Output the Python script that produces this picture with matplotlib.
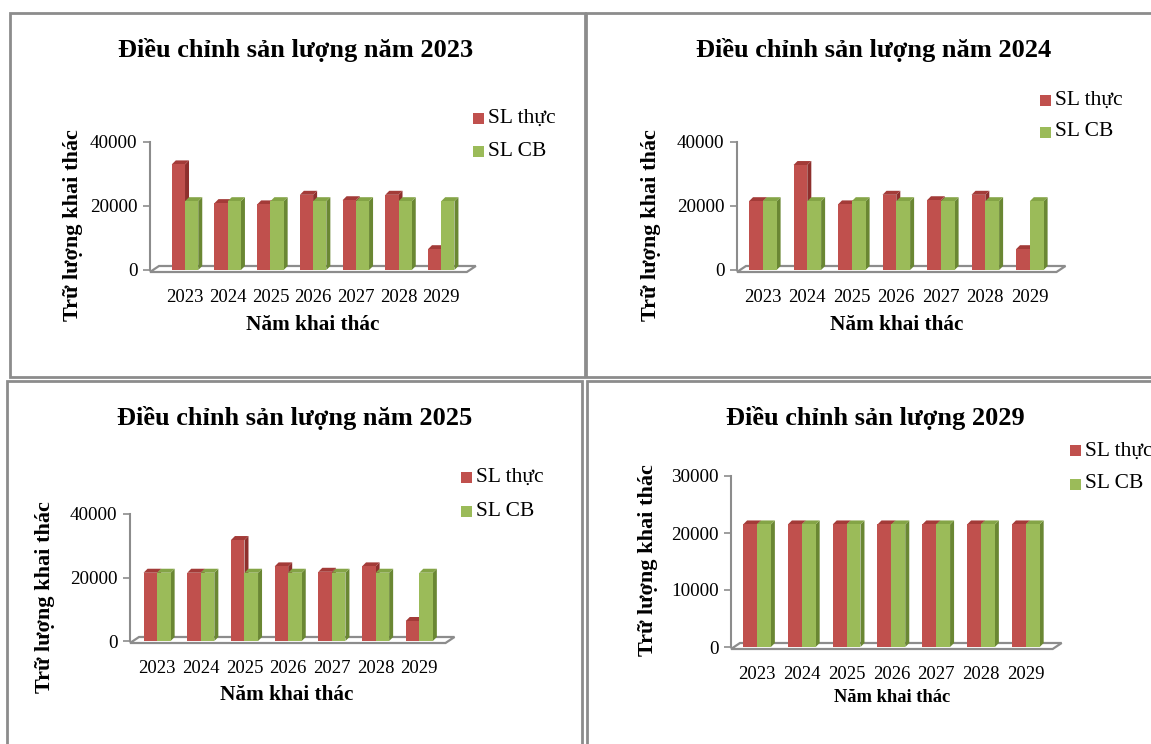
import matplotlib
matplotlib.use('Agg')
import matplotlib.pyplot as plt
from matplotlib.patches import Polygon, Rectangle
import numpy as np

# ---------------- data ----------------
years = ['2023', '2024', '2025', '2026', '2027', '2028', '2029']
sl_thuc_2023 = [33000, 20900, 20500, 23500, 21800, 23500, 6500]
sl_cb_2023 = [21500, 21500, 21500, 21500, 21500, 21500, 21500]
sl_thuc_2024 = [21500, 32800, 20500, 23500, 21800, 23500, 6500]
sl_cb_2024 = [21500, 21500, 21500, 21500, 21500, 21500, 21500]
sl_thuc_2025 = [21500, 21500, 31800, 23500, 21800, 23500, 6300]
sl_cb_2025 = [21500, 21500, 21500, 21500, 21500, 21500, 21500]
sl_thuc_2029 = [21500, 21500, 21500, 21500, 21500, 21500, 21500]
sl_cb_2029 = [21500, 21500, 21500, 21500, 21500, 21500, 21500]
titles = ['Điều chỉnh sản lượng năm 2023', 'Điều chỉnh sản lượng năm 2024',
          'Điều chỉnh sản lượng năm 2025', 'Điều chỉnh sản lượng 2029']
series_names = ['SL thực', 'SL CB']
yticks_40 = [0, 20000, 40000]
yticks_30 = [0, 10000, 20000, 30000]
xlabel_text = 'Năm khai thác'
ylabel_text = 'Trữ lượng khai thác'

# ---------------- style ----------------
W, H = 1151, 744
FONT = 'Liberation Serif'
RED = '#C0504D'; RED_SIDE = '#8E2F2D'; RED_TOP = '#A33B38'
GRN = '#9BBB59'; GRN_SIDE = '#6A8733'; GRN_TOP = '#84A446'
AXC = '#8C8C8C'

fig = plt.figure(figsize=(W / 100, H / 100), dpi=100)
fig.patch.set_facecolor('white')


def fx(px):
    return px / W


def fy(py):
    return 1 - py / H


def border(x0, y0, x1, y1):
    fig.patches.append(Rectangle((fx(x0), fy(y1)), fx(x1) - fx(x0), fy(y0) - fy(y1),
                                 transform=fig.transFigure, fill=False,
                                 edgecolor=AXC, linewidth=2.0))


border(10, 13, 585, 377)
border(586, 13, 1160, 377)
border(7, 381, 582, 760)
border(587, 381, 1160, 760)


def panel(cfg, red_vals, grn_vals, title):
    left, right, ytop, ybot = cfg['left'], cfg['right'], cfg['ytop'], cfg['ybot']
    ax = fig.add_axes([fx(left), fy(ybot), fx(right) - fx(left), fy(ytop) - fy(ybot)])
    ymax = cfg['ymax']
    xl = cfg['xl']
    spacing = cfg['spacing']
    xr = xl + (right - left) / spacing
    ax.set_xlim(xl, xr)
    ax.set_ylim(0, ymax)
    ax.set_facecolor('none')
    for s in ['top', 'right', 'bottom']:
        ax.spines[s].set_visible(False)
    ax.spines['left'].set_color(AXC)
    ax.spines['left'].set_linewidth(1.5)
    ax.set_yticks(cfg['yticks'])
    ax.set_yticklabels([str(v) for v in cfg['yticks']], fontsize=13.8, family=FONT)
    ax.tick_params(axis='y', length=5, color=AXC, width=1.2, pad=4)
    x = np.arange(len(years))
    ax.set_xticks(x)
    ax.set_xticklabels(years, fontsize=13.5, family=FONT)
    ax.tick_params(axis='x', length=0, pad=14)

    ppx = (right - left) / (xr - xl)      # px per x unit
    ppy = (ybot - ytop) / ymax            # px per y unit
    ddx, ddy = 4 / ppx, 4 / ppy           # bar depth
    fdx, fdy = 9 / ppx, 6 / ppy           # floor depth
    n = len(years)
    x_end = n - 0.5 + 0.1
    f0 = -2 / ppy
    floor = Polygon([(xl, f0), (x_end, f0), (x_end + fdx, f0 + fdy), (xl + fdx, f0 + fdy)],
                    closed=True, facecolor='white', edgecolor=AXC, linewidth=1.6,
                    zorder=1, clip_on=False)
    ax.add_patch(floor)

    bw = 0.31
    for i in range(n):
        for k, (vals, cf, cs, ct) in enumerate([(red_vals, RED, RED_SIDE, RED_TOP),
                                                 (grn_vals, GRN, GRN_SIDE, GRN_TOP)]):
            z = 2 + 2 * i + k
            xc = x[i] + (-bw / 2 if k == 0 else bw / 2)
            b = ax.bar([xc], [vals[i]], bw, color=cf, zorder=z + 0.5, linewidth=0)[0]
            x0 = b.get_x(); x1 = x0 + b.get_width(); h = b.get_height()
            side = Polygon([(x1, 0), (x1, h), (x1 + ddx, h + ddy), (x1 + ddx, ddy)],
                           closed=True, facecolor=cs, edgecolor='none', zorder=z, clip_on=False)
            top = Polygon([(x0, h), (x1, h), (x1 + ddx, h + ddy), (x0 + ddx, h + ddy)],
                          closed=True, facecolor=ct, edgecolor='none', zorder=z, clip_on=False)
            ax.add_patch(side)
            ax.add_patch(top)

    fig.text(fx(cfg['tx']), fy(cfg['ty']), title, ha='center', va='center',
             fontsize=19, fontweight='bold', family=FONT)
    fig.text(fx(cfg['xlx']), fy(cfg['xly']), xlabel_text, ha='center', va='center',
             fontsize=cfg['xlfs'], fontweight='bold', family=FONT)
    fig.text(fx(cfg['ylx']), fy(cfg['yly']), ylabel_text, ha='center', va='center',
             rotation=90, fontsize=16, fontweight='bold', family=FONT)
    for j, (name, col) in enumerate(zip(series_names, [RED, GRN])):
        lx, ly = cfg['lgx'], cfg['lgy'] + j * cfg['lgdy']
        fig.patches.append(Rectangle((fx(lx), fy(ly + 5.5)), 11 / W, 11 / H,
                                     transform=fig.transFigure, facecolor=col, edgecolor='none'))
        fig.text(fx(lx + 15), fy(ly), name, ha='left', va='center', fontsize=15.5, family=FONT)
    return ax


cfgs = [
    dict(left=150, right=472, ytop=142, ybot=270, ymax=40000, yticks=yticks_40,
         xl=-0.82, spacing=42.7, tx=296, ty=50, xlx=313, xly=325, xlfs=15.3,
         ylx=73, yly=225, lgx=473, lgy=118, lgdy=33),
    dict(left=737, right=1062, ytop=142, ybot=270, ymax=40000, yticks=yticks_40,
         xl=-0.58, spacing=44.5, tx=874, ty=50, xlx=897, xly=325, xlfs=15.3,
         ylx=651, yly=225, lgx=1040, lgy=100, lgdy=32),
    dict(left=130, right=452, ytop=514, ybot=641, ymax=40000, yticks=yticks_40,
         xl=-0.62, spacing=43.7, tx=295, ty=418, xlx=287, xly=695, xlfs=15.3,
         ylx=45, yly=597, lgx=461, lgy=477, lgdy=34),
    dict(left=731, right=1058, ytop=476, ybot=647, ymax=30000, yticks=yticks_30,
         xl=-0.58, spacing=44.8, tx=875, ty=418, xlx=892, xly=698, xlfs=13.3,
         ylx=648, yly=560, lgx=1070, lgy=451, lgdy=33),
]
data = [(sl_thuc_2023, sl_cb_2023), (sl_thuc_2024, sl_cb_2024),
        (sl_thuc_2025, sl_cb_2025), (sl_thuc_2029, sl_cb_2029)]

for cfg, (r, g), t in zip(cfgs, data, titles):
    panel(cfg, r, g, t)

fig.savefig('out.png', dpi=100, facecolor='white')
